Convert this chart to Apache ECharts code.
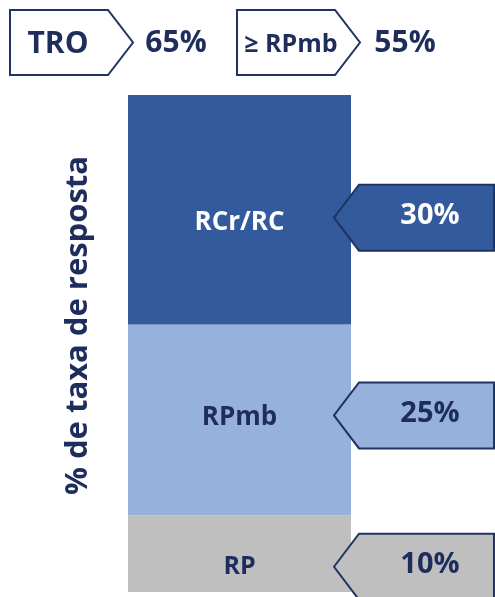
<!DOCTYPE html>
<html>
<head>
<meta charset="utf-8">
<script src="https://cdn.jsdelivr.net/npm/echarts@6/dist/echarts.min.js"></script>
<style>
  html, body { margin: 0; padding: 0; background: #ffffff; }
  #chart { width: 495px; height: 597px; }
</style>
</head>
<body>
<div id="chart"></div>
<script>
// Response-rate breakdown (stacked, bottom to top)
const categories = ['TRO'];
const segmentNames = ['RP', 'RPmb', 'RCr/RC'];
const segmentValues = [10, 25, 30];

// Summary figures shown above the bar
const summaryLabels = ['TRO', '≥ RPmb'];
const summaryValues = [65, 55];

const yAxisTitle = '% de taxa de resposta';

// Styling
const FONT = '"Open Sans", Lato, sans-serif';
const NAVY = '#1f2d5c';
const OUTLINE = '#1f3462';
const segmentColors = ['#bfbfbf', '#95b1dc', '#325a9c'];
const segmentTextColors = [NAVY, NAVY, '#ffffff'];
const segmentFontSizes = [25, 26, 26];
const segmentLabelOffsets = [13, -2, 13];   // px from segment centre
const calloutOffsets = [13, -4.5, 8];       // px from segment centre

const chart = echarts.init(document.getElementById('chart'), null, { renderer: 'canvas' });

const total = segmentValues.reduce((a, b) => a + b, 0);

const series = segmentNames.map((name, i) => ({
  name: name,
  type: 'bar',
  stack: 'total',
  barWidth: '100%',
  data: [segmentValues[i]],
  itemStyle: { color: segmentColors[i] },
  label: {
    show: true,
    position: 'inside',
    formatter: name,
    offset: [0, segmentLabelOffsets[i]],
    color: segmentTextColors[i],
    fontFamily: FONT,
    fontWeight: 'bold',
    fontSize: segmentFontSizes[i]
  },
  emphasis: { disabled: true },
  animation: false
}));

chart.setOption({
  animation: false,
  grid: { left: 128, right: 144, top: 95, bottom: 5 },
  xAxis: {
    type: 'category',
    data: categories,
    show: false
  },
  yAxis: {
    type: 'value',
    min: 0,
    max: total,
    axisLine: { show: false },
    axisTick: { show: false },
    axisLabel: { show: false },
    splitLine: { show: false },
    name: yAxisTitle,
    nameLocation: 'middle',
    nameRotate: 90,
    nameGap: 34,
    nameTextStyle: {
      color: NAVY,
      fontFamily: FONT,
      fontWeight: 'bold',
      fontSize: 31,
      padding: [0, 0, 0, 36]
    }
  },
  series: series
});

// Left-pointing callouts showing each segment's share
function callout(yCenter, fill, textColor, text) {
  const tipX = 334, bodyX = 359, rightX = 494, h = 33;
  return {
    type: 'group',
    z: 10,
    children: [
      {
        type: 'polygon',
        z: 10,
        shape: {
          points: [
            [tipX, yCenter],
            [bodyX, yCenter - h],
            [rightX, yCenter - h],
            [rightX, yCenter + h],
            [bodyX, yCenter + h]
          ]
        },
        style: { fill: fill, stroke: OUTLINE, lineWidth: 2, lineJoin: 'miter' }
      },
      {
        type: 'text',
        z: 11,
        x: 430,
        y: yCenter - 2,
        style: {
          text: text,
          fill: textColor,
          font: 'bold 29px ' + FONT,
          align: 'center',
          verticalAlign: 'middle'
        }
      }
    ]
  };
}

// Right-pointing tag boxes with their totals
function tag(x0, bodyRight, tipX, label, labelSize, labelCx, value, valueCx) {
  const top = 10, bottom = 75, mid = 42.5;
  return {
    type: 'group',
    z: 10,
    children: [
      {
        type: 'polygon',
        shape: {
          points: [[x0, top], [bodyRight, top], [tipX, mid], [bodyRight, bottom], [x0, bottom]]
        },
        style: { fill: '#ffffff', stroke: OUTLINE, lineWidth: 2 }
      },
      {
        type: 'text', x: labelCx, y: mid + 2,
        style: {
          text: label, fill: NAVY, font: 'bold ' + labelSize + 'px ' + FONT,
          align: 'center', verticalAlign: 'middle'
        }
      },
      {
        type: 'text', x: valueCx, y: mid + 1,
        style: {
          text: value + '%', fill: NAVY, font: 'bold 30px ' + FONT,
          align: 'center', verticalAlign: 'middle'
        }
      }
    ]
  };
}

const graphics = [];
let base = 0;
segmentValues.forEach((v, i) => {
  const midY = chart.convertToPixel({ yAxisIndex: 0 }, base + v / 2);
  base += v;
  graphics.push(callout(midY + calloutOffsets[i], segmentColors[i], segmentTextColors[i], v + '%'));
});
graphics.push(tag(10, 108, 133, summaryLabels[0], 30, 58, summaryValues[0], 176));
graphics.push(tag(237, 335, 360, summaryLabels[1], 25, 291, summaryValues[1], 405));

chart.setOption({ graphic: graphics });
</script>
</body>
</html>
